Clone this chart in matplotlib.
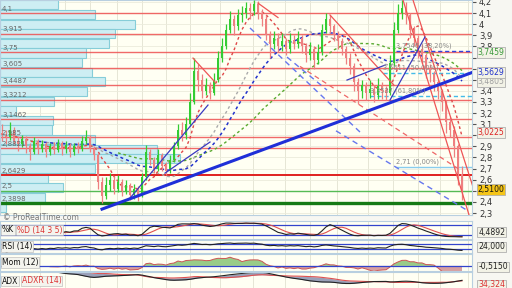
import numpy as np
import pandas as pd
import matplotlib
matplotlib.use("Agg")
import matplotlib.pyplot as plt
from matplotlib.transforms import blended_transform_factory
from matplotlib.ticker import FuncFormatter

# ----------- DATA -----------

first_open = 3.02
close = [3.00, 2.98, 3.05, 2.95, 2.92, 2.97, 2.90, 2.85, 2.95, 2.88,
         2.92, 2.85, 2.90, 2.87, 2.93, 2.88, 2.91, 2.85, 2.90, 2.88,
         2.95, 2.98, 2.88, 2.82, 2.58, 2.45, 2.55, 2.60, 2.52, 2.58,
         2.50, 2.55, 2.46, 2.52, 2.45, 2.62, 2.85, 2.78, 2.70, 2.82,
         2.72, 2.68, 2.78, 2.90, 3.05, 3.00, 3.10, 3.30, 3.58, 3.50,
         3.40, 3.45, 3.38, 3.50, 3.70, 3.80, 3.95, 4.05, 3.98, 4.08,
         4.10, 4.15, 4.12, 4.18, 4.10, 4.05, 3.90, 3.82, 3.88, 3.80,
         3.85, 3.78, 3.86, 3.82, 3.88, 3.80, 3.72, 3.78, 3.68, 3.75,
         3.95, 4.05, 3.98, 3.90, 3.85, 3.78, 3.70, 3.62, 3.48, 3.40,
         3.45, 3.38, 3.42, 3.36, 3.44, 3.40, 3.38, 3.65, 3.95, 4.10,
         4.15, 4.08, 3.95, 3.88, 3.78, 3.72, 3.60, 3.55, 3.48, 3.40,
         3.30, 3.12, 3.05, 2.90, 2.65, 2.51]
high = [3.10, 3.05, 3.12, 3.07, 2.99, 3.00, 2.99, 2.93, 2.98, 2.97,
        2.96, 2.94, 2.93, 2.94, 2.97, 2.95, 2.95, 2.93, 2.93, 2.94,
        2.99, 3.05, 3.00, 2.90, 2.84, 2.62, 2.62, 2.66, 2.63, 2.64,
        2.61, 2.60, 2.57, 2.56, 2.54, 2.66, 2.91, 2.88, 2.80, 2.88,
        2.84, 2.76, 2.82, 2.94, 3.10, 3.12, 3.16, 3.38, 3.70, 3.64,
        3.55, 3.52, 3.48, 3.56, 3.76, 3.88, 4.00, 4.12, 4.08, 4.14,
        4.16, 4.20, 4.19, 4.22, 4.21, 4.14, 4.08, 3.94, 3.94, 3.92,
        3.92, 3.88, 3.92, 3.90, 3.94, 3.90, 3.83, 3.84, 3.80, 3.82,
        4.00, 4.10, 4.08, 4.00, 3.94, 3.88, 3.80, 3.74, 3.65, 3.52,
        3.50, 3.48, 3.50, 3.45, 3.52, 3.48, 3.44, 3.72, 4.02, 4.18,
        4.22, 4.20, 4.10, 3.98, 3.90, 3.82, 3.74, 3.64, 3.58, 3.50,
        3.42, 3.32, 3.16, 3.08, 2.92, 2.72]
low = [2.95, 2.92, 2.96, 2.92, 2.86, 2.89, 2.84, 2.78, 2.83, 2.83,
       2.85, 2.80, 2.82, 2.83, 2.85, 2.82, 2.84, 2.80, 2.82, 2.84,
       2.86, 2.92, 2.85, 2.78, 2.52, 2.39, 2.43, 2.50, 2.47, 2.49,
       2.45, 2.47, 2.42, 2.43, 2.41, 2.44, 2.60, 2.73, 2.66, 2.68,
       2.68, 2.64, 2.66, 2.76, 2.88, 2.95, 2.97, 3.08, 3.28, 3.40,
       3.34, 3.36, 3.33, 3.36, 3.48, 3.66, 3.78, 3.92, 3.90, 3.95,
       4.02, 4.06, 4.05, 4.08, 4.05, 3.98, 3.86, 3.70, 3.78, 3.75,
       3.76, 3.72, 3.74, 3.78, 3.79, 3.74, 3.66, 3.68, 3.60, 3.64,
       3.72, 3.92, 3.92, 3.85, 3.78, 3.72, 3.64, 3.55, 3.40, 3.28,
       3.34, 3.32, 3.34, 3.30, 3.33, 3.33, 3.32, 3.36, 3.62, 3.92,
       4.05, 4.00, 3.88, 3.80, 3.70, 3.65, 3.52, 3.48, 3.40, 3.33,
       3.22, 3.02, 2.98, 2.80, 2.55, 2.42]

red_levels = [4.1, 3.915, 3.75, 3.605, 3.4487, 3.3212, 3.1462, 2.985, 2.8821]
red_labels = ["4,1", "3,915", "3,75", "3,605", "3,4487", "3,3212", "3,1462", "2,985", "2,8821"]
support_level = 2.6429
green_level = 2.5
dark_green_level = 2.3898

# volume profile, top row first
vol_profile = [58, 95, 135, 115, 109, 86, 82, 92, 105, 87, 54, 16,
               53, 52, 95, 157, 180, 95, 48, 63, 45, 6]

fib_levels = [3.7546, 3.5611, 3.3537, 2.71]
fib_labels = ["3,7546 (38,20%)", "3,5611 (50,00%)", "3,3537 (61,80%)", "2,71 (0,00%)"]
fib_start = [98.5, 95.25, 92.0, 98.5]

# trendlines (bar, price)
thick_blue = [(25, 2.335), (117.5, 3.565)]
thin_blue = [[(32, 2.434), (51.5, 3.272)], [(40.75, 2.659), (52, 2.939)],
             [(97, 3.317), (105.75, 3.885)], [(86.25, 3.497), (95.75, 3.632)]]
red_trend = [[(47.75, 3.695), (53.25, 3.479)], [(82, 4.083), (98, 3.45)],
             [(64, 4.19), (69, 4.06)], [(100.25, 4.218), (117, 2.254)],
             [(102.75, 4.218), (118, 2.506)]]
red_dash_trend = [[(74.5, 3.62), (114, 2.70)]]
blue_dash_trend = [[(62, 3.966), (89.5, 3.029)], [(71.25, 3.704), (81.25, 3.407)],
                   [(83.5, 3.04), (116, 2.33)]]

vgrid = [9.5, 15.75, 22, 28.75, 35, 41, 47, 54.5, 62.75, 70.75, 77, 83.75,
         91.5, 97.75, 104, 109.5, 116.5]

# tick labels hidden under the price boxes
hidden_ticks = [3.7, 3.6, 3.5, 3.0, 2.5]

# ----------- INDICATORS -----------

c = pd.Series(close)
h = pd.Series(high)
l = pd.Series(low)
o = c.shift(1).fillna(first_open)
x = np.arange(len(close))

ma_red = c.rolling(7, min_periods=3).mean()
ma_grey = c.rolling(20, min_periods=8).mean()
ma_blue = c.rolling(25, min_periods=10).mean()
ma_green = c.rolling(40, min_periods=30).mean()

ll = l.rolling(14, min_periods=5).min()
hh = h.rolling(14, min_periods=5).max()
raw_k = 100 * (c - ll) / (hh - ll)
pct_k = raw_k.rolling(3, min_periods=1).mean()
pct_d = pct_k.rolling(5, min_periods=1).mean()

delta = c.diff()
gain = delta.clip(lower=0).ewm(alpha=1 / 14, adjust=False).mean()
loss = (-delta.clip(upper=0)).ewm(alpha=1 / 14, adjust=False).mean()
rsi = 100 - 100 / (1 + gain / loss)

mom = c - c.shift(12)

up = h.diff()
dn = -l.diff()
pdm = pd.Series(np.where((up > dn) & (up > 0), up, 0.0))
mdm = pd.Series(np.where((dn > up) & (dn > 0), dn, 0.0))
tr = pd.concat([h - l, (h - c.shift()).abs(), (l - c.shift()).abs()], axis=1).max(axis=1)
atr = tr.ewm(alpha=1 / 14, adjust=False).mean()
pdi = 100 * pdm.ewm(alpha=1 / 14, adjust=False).mean() / atr
mdi = 100 * mdm.ewm(alpha=1 / 14, adjust=False).mean() / atr
dx = 100 * (pdi - mdi).abs() / (pdi + mdi)
adx = dx.ewm(alpha=1 / 14, adjust=False).mean()
adxr = (adx + adx.shift(14)) / 2

# ----------- FIGURE -----------

W, H = 512, 288
fig = plt.figure(figsize=(W / 100, H / 100), dpi=100, facecolor="#f7f7f2")
right = 472 / W
bg = "#fffff3"


def panel(top, bottom):
    a = fig.add_axes([0, 1 - bottom / H, right, (bottom - top) / H], facecolor=bg)
    a.set_xlim(-0.5, 117.5)
    a.set_xticks([])
    a.set_yticks([])
    for s in a.spines.values():
        s.set_color("#b8cfe0")
        s.set_linewidth(0.8)
    for v in vgrid:
        a.axvline(v, color="#e6e6d6", lw=0.7, zorder=0)
    return a


def fmt_tick(v, p):
    if any(abs(v - t) < 1e-6 for t in hidden_ticks):
        return ""
    return f"{v:g}".replace(".", ",")


ax = panel(0, 215)
ax.set_ylim(2.282, 4.218)
ax.yaxis.tick_right()
ax.set_yticks(np.round(np.arange(2.3, 4.21, 0.1), 1))
ax.yaxis.set_major_formatter(FuncFormatter(fmt_tick))
ax.tick_params(axis="y", labelsize=6, length=3, color="#555555", labelcolor="#333333", pad=2)
for v in np.arange(2.3, 4.21, 0.1):
    ax.axhline(v, color="#ebebdc", lw=0.6, zorder=0)

# volume profile
edges = np.linspace(4.218, 2.31, len(vol_profile) + 1)
centers = (edges[:-1] + edges[1:]) / 2
ax.barh(centers, np.array(vol_profile) / 4.0, height=(edges[0] - edges[1]) * 0.95,
        left=-0.5, color="#cdeef3", edgecolor="#86cdd8", lw=0.8, zorder=1)

# horizontal levels
for lv, lb in zip(red_levels, red_labels):
    ax.axhline(lv, color="#ee5050", lw=1.0, alpha=0.85, zorder=2)
    ax.text(0.0, lv + 0.012, lb, fontsize=5, color="#666666", va="bottom", zorder=6)
ax.axhline(support_level, color="#e02020", lw=1.4, zorder=2)
ax.text(0.0, support_level + 0.012, "2,6429", fontsize=5, color="#666666", va="bottom", zorder=6)
ax.axhline(green_level, color="#55bb55", lw=1.0, zorder=2)
ax.text(0.0, green_level + 0.012, "2,5", fontsize=5, color="#666666", va="bottom", zorder=6)
ax.axhline(dark_green_level, color="#157a15", lw=2.4, zorder=2)
ax.text(0.0, dark_green_level + 0.012, "2,3898", fontsize=5, color="#666666", va="bottom", zorder=6)

# fibonacci levels
fib_colors = ["#3344dd", "#44bbe8", "#44bbe8", "#88ccee"]
fib_styles = [(0, (3, 2)), (0, (3, 2)), (0, (3, 2)), "-"]
for lv, lb, xs, col, ls in zip(fib_levels, fib_labels, fib_start, fib_colors, fib_styles):
    ax.plot([xs, 117.5], [lv, lv], color=col, lw=1.0, ls=ls, zorder=3)
    ax.text(xs, lv + 0.02, lb, fontsize=4.8, color="#888888", va="bottom", zorder=6)

# moving averages
ax.plot(x, ma_green, color="#5aaa30", lw=1.0, ls=(0, (2, 2)), zorder=3)
ax.plot(x, ma_grey, color="#aaaaaa", lw=1.0, ls=(0, (2, 2)), zorder=3)
ax.plot(x, ma_blue, color="#2233cc", lw=1.1, ls=(0, (2, 2)), zorder=3)
ax.plot(x, ma_red, color="#e04848", lw=1.0, ls=(0, (2, 2)), zorder=3)

# candles
up_bar = c >= o
cols = np.where(up_bar, "#33cc33", "#ee8080")
ax.vlines(x, l, h, colors=cols, lw=0.9, zorder=4)
ax.bar(x, (c - o).abs().clip(lower=0.01), bottom=np.minimum(c, o), width=0.55,
       color=cols, zorder=4)

# trendlines
for (p0, p1) in red_trend:
    ax.plot([p0[0], p1[0]], [p0[1], p1[1]], color="#ee5555", lw=0.9, zorder=5)
for (p0, p1) in red_dash_trend:
    ax.plot([p0[0], p1[0]], [p0[1], p1[1]], color="#ee6666", lw=0.9, ls=(0, (4, 3)), zorder=5)
for (p0, p1) in blue_dash_trend:
    ax.plot([p0[0], p1[0]], [p0[1], p1[1]], color="#6677ee", lw=1.0, ls=(0, (4, 3)), zorder=5)
for (p0, p1) in thin_blue:
    ax.plot([p0[0], p1[0]], [p0[1], p1[1]], color="#3a3ac0", lw=0.9, zorder=5)
ax.plot([thick_blue[0][0], thick_blue[1][0]], [thick_blue[0][1], thick_blue[1][1]],
        color="#1f2fd8", lw=2.2, zorder=5)

# price boxes on the right
tr_ax = blended_transform_factory(ax.transAxes, ax.transData)
boxes = [(3.7459, "3,7459", "#3a9a3a", "#f2f2e6"),
         (3.4805, "3,4805", "#a0a0a0", "#f2f2e6"),
         (3.5629, "3,5629", "#2233cc", "#f2f2e6"),
         (3.0225, "3,0225", "#dd2222", "#f2f2e6"),
         (2.51, "2,5100", "#111111", "#f5c518")]
for v, t, tc, fc in boxes:
    ax.text(1.012, v, t, transform=tr_ax, fontsize=5.6, color=tc, va="center", ha="left",
            clip_on=False, zorder=10,
            bbox=dict(boxstyle="square,pad=0.12", fc=fc, ec="#b0b0b0", lw=0.6))

fig.text(0.006, 1 - 217 / H, "© ProRealTime.com", fontsize=5.5, color="#777777", va="center")


def tag(a, xpos, txt, col):
    a.text(xpos, 0.5, txt, transform=a.transAxes, fontsize=5.5, color=col, va="center",
           ha="left", zorder=10,
           bbox=dict(boxstyle="square,pad=0.12", fc="#f4f4ee", ec="#c0c0c0", lw=0.5))


def right_box(ypix, txt, col):
    fig.text(right + 0.012, 1 - ypix / H, txt, fontsize=5.6, color=col, va="center",
             bbox=dict(boxstyle="square,pad=0.12", fc="#f2f2e6", ec="#b0b0b0", lw=0.6))


# stochastic
a1 = panel(221, 239)
a1.set_ylim(-8, 108)
a1.axhline(80, color="#3344cc", lw=0.9)
a1.axhline(20, color="#3344cc", lw=0.9)
a1.plot(x, pct_d, color="#e05050", lw=0.8)
a1.plot(x, pct_k, color="#222222", lw=0.8)
tag(a1, 0.004, "%K", "#111111")
tag(a1, 0.036, "%D (14 3 5)", "#dd3333")
right_box(232, "4,4892", "#222222")

# RSI
a2 = panel(240, 253)
a2.set_ylim(0, 100)
a2.axhline(70, color="#3344cc", lw=0.9)
a2.axhline(30, color="#3344cc", lw=0.9)
a2.plot(x, rsi, color="#222222", lw=0.8)
tag(a2, 0.004, "RSI (14)", "#111111")
right_box(247, "24,000", "#222222")

# momentum
a3 = panel(254, 271)
mmax = np.nanmax(np.abs(mom))
a3.set_ylim(-mmax * 0.45, mmax * 1.05)
a3.fill_between(x, 0, mom, where=mom > 0, color="#99cc88", lw=0, interpolate=True)
a3.fill_between(x, 0, mom, where=mom < 0, color="#d8a0a0", lw=0, interpolate=True)
a3.plot(x, mom, color="#cc5555", lw=0.7)
a3.axhline(0, color="#3344cc", lw=0.9)
tag(a3, 0.004, "Mom (12)", "#111111")
right_box(267, "-0,5150", "#222222")

# ADX
a4 = panel(272, 290)
a4.set_ylim(0, 60)
a4.fill_between(x, adx, adxr, color="#9aa0b8", lw=0)
a4.plot(x, adxr, color="#e05050", lw=0.8)
a4.plot(x, adx, color="#222222", lw=0.8)
tag(a4, 0.004, "ADX", "#111111")
tag(a4, 0.046, "ADXR (14)", "#dd3333")
right_box(285, "34,324", "#dd3333")

fig.savefig("out.png", dpi=100, facecolor=fig.get_facecolor())
